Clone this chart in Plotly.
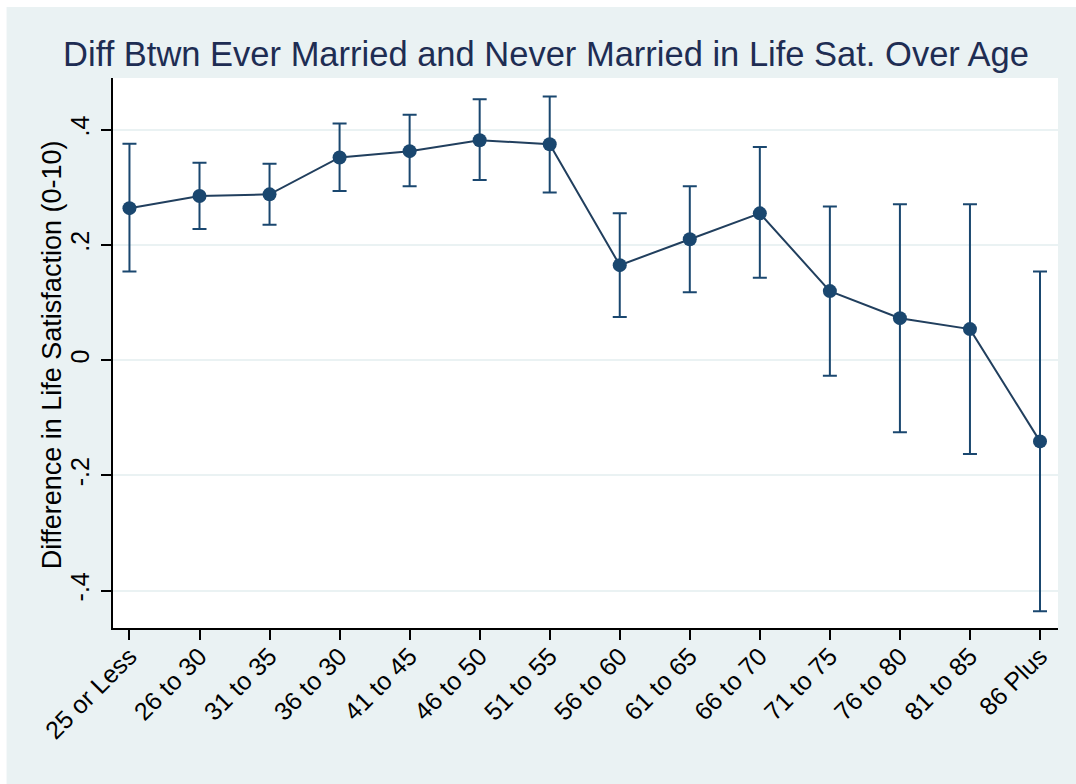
import plotly.graph_objects as go

# Age groups and estimated difference (ever married minus never married)
age_groups = ["25 or Less", "26 to 30", "31 to 35", "36 to 30", "41 to 45", "46 to 50",
              "51 to 55", "56 to 60", "61 to 65", "66 to 70", "71 to 75", "76 to 80",
              "81 to 85", "86 Plus"]
diff = [0.264, 0.285, 0.288, 0.352, 0.363, 0.382, 0.375,
        0.165, 0.210, 0.255, 0.120, 0.073, 0.054, -0.141]
ci_upper = [0.376, 0.343, 0.341, 0.411, 0.426, 0.453, 0.458,
            0.255, 0.302, 0.370, 0.267, 0.271, 0.271, 0.154]
ci_lower = [0.154, 0.228, 0.235, 0.294, 0.302, 0.313, 0.291,
            0.075, 0.118, 0.143, -0.027, -0.125, -0.163, -0.436]
y_ticks = [-0.4, -0.2, 0, 0.2, 0.4]
y_tick_text = ["-.4", "-.2", "0", ".2", ".4"]

NAVY = "#1a476f"
BG = "#eaf2f3"
FONT = "Liberation Sans, Arial, sans-serif"

err_plus = [u - d for u, d in zip(ci_upper, diff)]
err_minus = [d - l for d, l in zip(diff, ci_lower)]

fig = go.Figure()
fig.add_trace(go.Scatter(
    x=age_groups, y=diff, mode="lines+markers",
    line=dict(color="#213f5e", width=2),
    marker=dict(color=NAVY, size=14),
    error_y=dict(type="data", symmetric=False, array=err_plus, arrayminus=err_minus,
                 color=NAVY, thickness=2, width=7),
    showlegend=False,
))

W, H = 1076, 784
L, R, T, B = 112.5, 1058, 78, 628.5
pw, ph = R - L, B - T


def px_x(p):
    return (p - L) / pw


def px_y(p):
    return (B - p) / ph


# Outer graph region (light tint) with a thin white margin on the left and top
fig.add_shape(type="rect", xref="paper", yref="paper", layer="below",
              x0=px_x(6), x1=px_x(W + 5), y0=px_y(H + 5), y1=px_y(7),
              fillcolor=BG, line=dict(width=0))
fig.add_shape(type="rect", xref="paper", yref="paper", layer="below",
              x0=0, x1=1, y0=0, y1=1, fillcolor="white", line=dict(width=0))

# Vertical axis title
fig.add_annotation(text="Difference in Life Satisfaction (0-10)", textangle=-90,
                   xref="paper", yref="paper", x=px_x(51), y=px_y(355),
                   xanchor="center", yanchor="middle", showarrow=False,
                   font=dict(size=27, color="#000000", family=FONT))

fig.update_layout(
    width=W, height=H,
    margin=dict(l=L, r=W - R, t=T, b=H - B),
    paper_bgcolor="white", plot_bgcolor="white",
    font=dict(family=FONT, color="#000000"),
    title=dict(text="Diff Btwn Ever Married and Never Married in Life Sat. Over Age",
               x=546 / W, xanchor="center", y=1 - 54 / H, yanchor="middle",
               font=dict(size=34.5, color="#1e2d53", family=FONT)),
)
fig.update_xaxes(
    type="category", range=[-0.235, 13.257],
    showline=True, linecolor="#000000", linewidth=1.5,
    ticks="outside", ticklen=10, tickwidth=1.5, tickcolor="#000000",
    tickangle=-45, tickfont=dict(size=25, color="#000000"),
    ticklabelstandoff=-8,
    showgrid=False, zeroline=False,
)
fig.update_yaxes(
    range=[-0.465, 0.490],
    tickvals=y_ticks, ticktext=y_tick_text,
    showline=True, linecolor="#000000", linewidth=1.5,
    ticks="outside", ticklen=10, tickwidth=1.5, tickcolor="#000000",
    tickangle=-90, tickfont=dict(size=25, color="#000000"),
    ticklabelstandoff=2,
    showgrid=True, gridcolor=BG, gridwidth=2, zeroline=False,
)

fig.write_html("out.html")
